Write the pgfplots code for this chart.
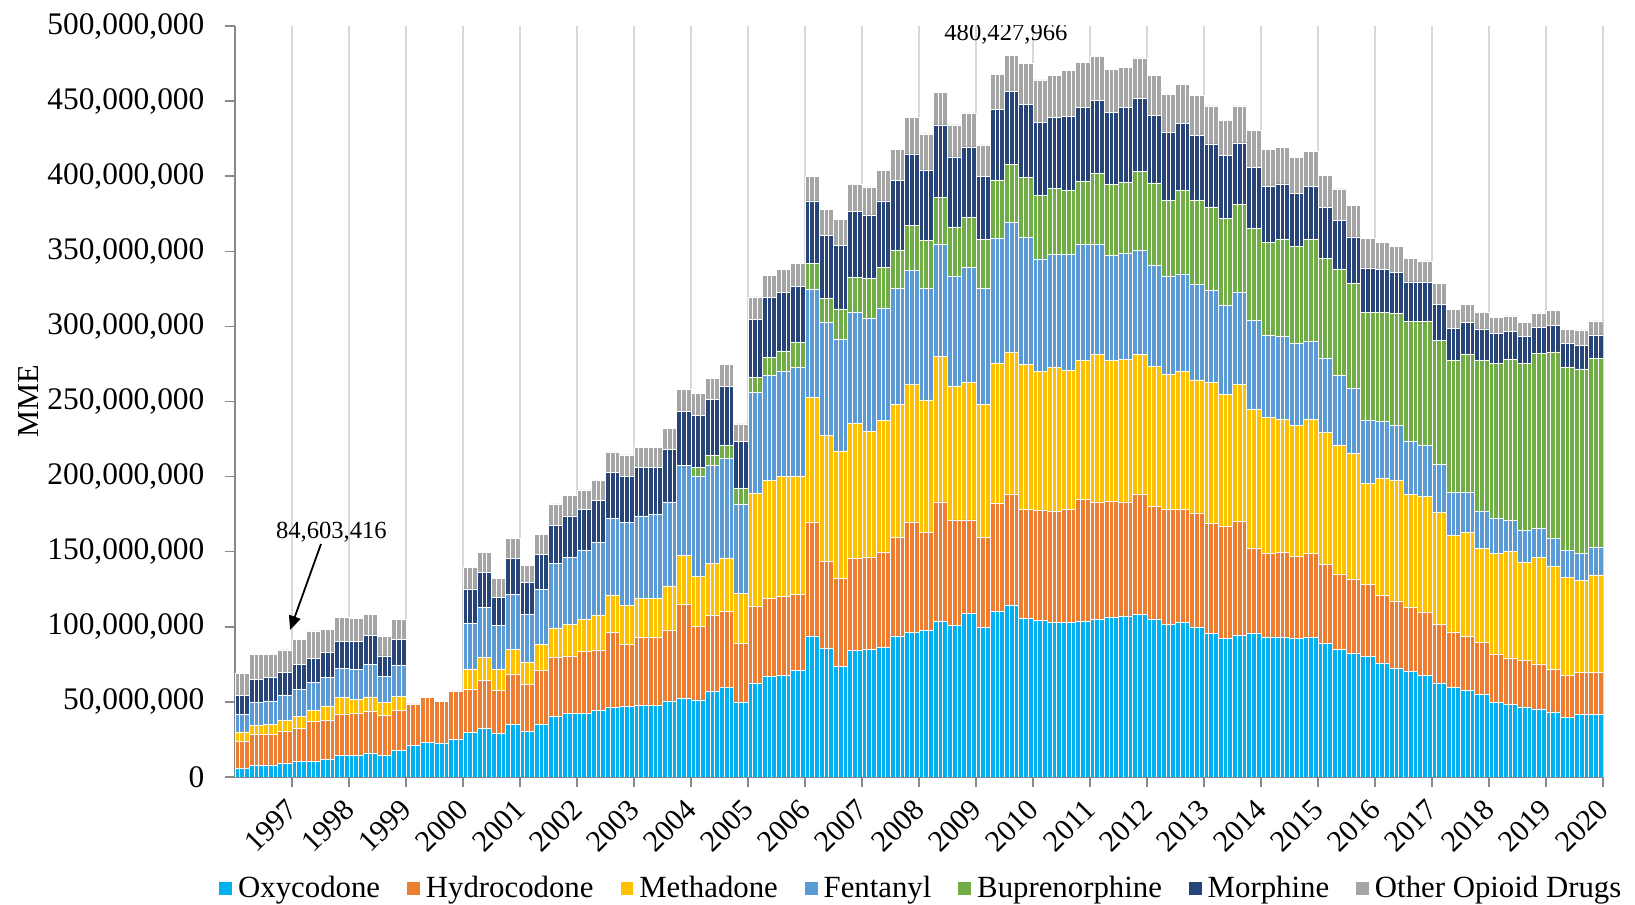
\documentclass[border=0pt]{standalone}
\usepackage{pgfplots}
\pgfplotsset{compat=1.18}
\usepackage{pgfplotstable}
\usepackage{fontspec}
\setmainfont{Liberation Serif}
\usetikzlibrary{arrows.meta}
\definecolor{oxy}{HTML}{00B0F0}
\definecolor{hyd}{HTML}{ED7D31}
\definecolor{met}{HTML}{FFC000}
\definecolor{fen}{HTML}{5B9BD5}
\definecolor{bup}{HTML}{70AD47}
\definecolor{mor}{HTML}{264478}
\definecolor{oth}{HTML}{A5A5A5}
\definecolor{axisgray}{HTML}{898989}
\definecolor{gridgray}{HTML}{D9D9D9}
% monthly values, millions of MME (data reported quarterly)
\pgfplotstableread{
O H M F B Mo Ot
5.5 18.3 6.2 11.7 0 12.4 14.7
5.5 18.3 6.2 11.7 0 12.4 14.7
5.5 18.3 6.2 11.7 0 12.4 14.7
7.5 20.7 6.4 15.1 0 15.5 16.5
7.5 20.7 6.4 15.1 0 15.5 16.5
7.5 20.7 6.4 15.1 0 15.5 16.5
8.0 20.2 6.8 15.6 0 15.8 15.3
8.0 20.2 6.8 15.6 0 15.8 15.3
8.0 20.2 6.8 15.6 0 15.8 15.3
8.9 21.7 7.3 16.7 0 15.0 15.0
8.9 21.7 7.3 16.7 0 15.0 15.0
8.9 21.7 7.3 16.7 0 15.0 15.0
10.2 22.0 8.0 18.2 0 16.4 16.9
10.2 22.0 8.0 18.2 0 16.4 16.9
10.2 22.0 8.0 18.2 0 16.4 16.9
10.4 26.4 7.8 18.2 0 16.0 18.4
10.4 26.4 7.8 18.2 0 16.0 18.4
10.4 26.4 7.8 18.2 0 16.0 18.4
11.8 26.1 9.4 18.8 0 16.7 15.5
11.8 26.1 9.4 18.8 0 16.7 15.5
11.8 26.1 9.4 18.8 0 16.7 15.5
14.2 27.8 11.1 19.3 0 17.7 16.0
14.2 27.8 11.1 19.3 0 17.7 16.0
14.2 27.8 11.1 19.3 0 17.7 16.0
14.2 28.3 9.4 20.0 0 18.2 15.5
14.2 28.3 9.4 20.0 0 18.2 15.5
14.2 28.3 9.4 20.0 0 18.2 15.5
16.0 27.5 9.8 21.9 0 19.3 14.0
16.0 27.5 9.8 21.9 0 19.3 14.0
16.0 27.5 9.8 21.9 0 19.3 14.0
14.2 26.6 8.7 17.5 0 13.6 13.1
14.2 26.6 8.7 17.5 0 13.6 13.1
14.2 26.6 8.7 17.5 0 13.6 13.1
17.5 26.6 9.6 20.7 0 17.3 13.3
17.5 26.6 9.6 20.7 0 17.3 13.3
17.5 26.6 9.6 20.7 0 17.3 13.3
21.3 27.3 0 0 0 0 0
21.3 27.3 0 0 0 0 0
21.3 27.3 0 0 0 0 0
23.1 30.0 0 0 0 0 0
23.1 30.0 0 0 0 0 0
23.1 30.0 0 0 0 0 0
22.7 27.7 0 0 0 0 0
22.7 27.7 0 0 0 0 0
22.7 27.7 0 0 0 0 0
25.1 32.2 0 0 0 0 0
25.1 32.2 0 0 0 0 0
25.1 32.2 0 0 0 0 0
29.5 29.1 13.3 30.2 0 23.1 14.4
29.5 29.1 13.3 30.2 0 23.1 14.4
29.5 29.1 13.3 30.2 0 23.1 14.4
32.2 31.9 15.6 33.3 0 23.0 13.6
32.2 31.9 15.6 33.3 0 23.0 13.6
32.2 31.9 15.6 33.3 0 23.0 13.6
29.1 28.4 13.9 29.6 0 18.6 12.4
29.1 28.4 13.9 29.6 0 18.6 12.4
29.1 28.4 13.9 29.6 0 18.6 12.4
34.8 33.8 16.2 36.8 0 23.7 13.4
34.8 33.8 16.2 36.8 0 23.7 13.4
34.8 33.8 16.2 36.8 0 23.7 13.4
30.4 31.1 15.1 31.9 0 20.9 11.5
30.4 31.1 15.1 31.9 0 20.9 11.5
30.4 31.1 15.1 31.9 0 20.9 11.5
34.8 36.2 17.5 36.5 0 23.0 13.6
34.8 36.2 17.5 36.5 0 23.0 13.6
34.8 36.2 17.5 36.5 0 23.0 13.6
40.2 39.4 19.6 42.9 0 25.5 14.2
40.2 39.4 19.6 42.9 0 25.5 14.2
40.2 39.4 19.6 42.9 0 25.5 14.2
42.1 38.5 21.1 44.6 0 27.5 13.7
42.1 38.5 21.1 44.6 0 27.5 13.7
42.1 38.5 21.1 44.6 0 27.5 13.7
42.4 41.0 21.8 45.7 0 27.5 12.7
42.4 41.0 21.8 45.7 0 27.5 12.7
42.4 41.0 21.8 45.7 0 27.5 12.7
44.1 40.5 23.3 48.4 0 27.7 13.7
44.1 40.5 23.3 48.4 0 27.7 13.7
44.1 40.5 23.3 48.4 0 27.7 13.7
46.4 50.1 24.7 51.2 0 30.2 13.8
46.4 50.1 24.7 51.2 0 30.2 13.8
46.4 50.1 24.7 51.2 0 30.2 13.8
46.8 41.3 26.4 54.8 0 30.6 14.5
46.8 41.3 26.4 54.8 0 30.6 14.5
46.8 41.3 26.4 54.8 0 30.6 14.5
47.7 45.1 26.2 54.8 0 32.2 13.4
47.7 45.1 26.2 54.8 0 32.2 13.4
47.7 45.1 26.2 54.8 0 32.2 13.4
47.7 45.1 26.2 55.6 0 31.4 13.4
47.7 45.1 26.2 55.6 0 31.4 13.4
47.7 45.1 26.2 55.6 0 31.4 13.4
50.6 47.3 29.3 55.9 0 34.9 14.2
50.6 47.3 29.3 55.9 0 34.9 14.2
50.6 47.3 29.3 55.9 0 34.9 14.2
52.1 62.9 32.5 59.9 0 35.8 14.9
52.1 62.9 32.5 59.9 0 35.8 14.9
52.1 62.9 32.5 59.9 0 35.8 14.9
51.3 48.7 33.8 66.1 6.0 35.1 14.3
51.3 48.7 33.8 66.1 6.0 35.1 14.3
51.3 48.7 33.8 66.1 6.0 35.1 14.3
56.8 50.7 34.5 65.3 7.0 37.0 14.3
56.8 50.7 34.5 65.3 7.0 37.0 14.3
56.8 50.7 34.5 65.3 7.0 37.0 14.3
59.5 50.7 35.7 66.2 8.9 38.9 14.9
59.5 50.7 35.7 66.2 8.9 38.9 14.9
59.5 50.7 35.7 66.2 8.9 38.9 14.9
50.0 39.2 33.2 59.4 10.1 31.5 11.7
50.0 39.2 33.2 59.4 10.1 31.5 11.7
50.0 39.2 33.2 59.4 10.1 31.5 11.7
62.2 51.3 75.1 67.2 10.4 38.6 14.8
62.2 51.3 75.1 67.2 10.4 38.6 14.8
62.2 51.3 75.1 67.2 10.4 38.6 14.8
66.8 52.1 78.4 70.2 12.1 39.8 14.8
66.8 52.1 78.4 70.2 12.1 39.8 14.8
66.8 52.1 78.4 70.2 12.1 39.8 14.8
67.6 52.6 79.7 70.3 13.5 38.7 15.4
67.6 52.6 79.7 70.3 13.5 38.7 15.4
67.6 52.6 79.7 70.3 13.5 38.7 15.4
71.1 50.5 78.9 72.4 16.2 37.3 15.4
71.1 50.5 78.9 72.4 16.2 37.3 15.4
71.1 50.5 78.9 72.4 16.2 37.3 15.4
93.9 75.9 82.9 71.9 17.5 41.4 16.1
93.9 75.9 82.9 71.9 17.5 41.4 16.1
93.9 75.9 82.9 71.9 17.5 41.4 16.1
85.7 57.8 83.9 75.0 16.4 42.0 16.9
85.7 57.8 83.9 75.0 16.4 42.0 16.9
85.7 57.8 83.9 75.0 16.4 42.0 16.9
73.4 59.0 84.7 74.5 20.1 42.1 17.5
73.4 59.0 84.7 74.5 20.1 42.1 17.5
73.4 59.0 84.7 74.5 20.1 42.1 17.5
84.3 61.3 89.6 74.5 22.8 44.3 17.9
84.3 61.3 89.6 74.5 22.8 44.3 17.9
84.3 61.3 89.6 74.5 22.8 44.3 17.9
85.2 60.9 84.2 75.3 26.3 42.3 18.7
85.2 60.9 84.2 75.3 26.3 42.3 18.7
85.2 60.9 84.2 75.3 26.3 42.3 18.7
86.3 63.6 87.6 74.5 27.2 44.3 20.6
86.3 63.6 87.6 74.5 27.2 44.3 20.6
86.3 63.6 87.6 74.5 27.2 44.3 20.6
93.9 65.4 89.0 76.9 25.7 46.5 20.3
93.9 65.4 89.0 76.9 25.7 46.5 20.3
93.9 65.4 89.0 76.9 25.7 46.5 20.3
96.5 73.3 91.7 75.9 30.1 47.3 24.3
96.5 73.3 91.7 75.9 30.1 47.3 24.3
96.5 73.3 91.7 75.9 30.1 47.3 24.3
97.7 65.4 88.0 74.0 31.9 47.2 23.9
97.7 65.4 88.0 74.0 31.9 47.2 23.9
97.7 65.4 88.0 74.0 31.9 47.2 23.9
103.5 79.7 96.6 74.6 31.6 48.2 21.6
103.5 79.7 96.6 74.6 31.6 48.2 21.6
103.5 79.7 96.6 74.6 31.6 48.2 21.6
100.9 70.2 89.3 72.7 33.1 46.6 21.4
100.9 70.2 89.3 72.7 33.1 46.6 21.4
100.9 70.2 89.3 72.7 33.1 46.6 21.4
108.9 62.2 91.8 76.5 32.9 47.2 22.6
108.9 62.2 91.8 76.5 32.9 47.2 22.6
108.9 62.2 91.8 76.5 32.9 47.2 22.6
99.6 59.7 88.6 77.2 32.8 42.1 20.8
99.6 59.7 88.6 77.2 32.8 42.1 20.8
99.6 59.7 88.6 77.2 32.8 42.1 20.8
110.5 72.0 93.2 83.2 38.6 47.2 23.3
110.5 72.0 93.2 83.2 38.6 47.2 23.3
110.5 72.0 93.2 83.2 38.6 47.2 23.3
114.6 73.4 95.0 86.1 38.9 48.5 23.9
114.6 73.4 95.0 86.1 38.9 48.5 23.9
114.6 73.4 95.0 86.1 38.9 48.5 23.9
105.7 72.7 96.3 84.5 40.2 48.5 27.1
105.7 72.7 96.3 84.5 40.2 48.5 27.1
105.7 72.7 96.3 84.5 40.2 48.5 27.1
104.1 73.3 92.8 74.7 42.4 48.5 28.3
104.1 73.3 92.8 74.7 42.4 48.5 28.3
104.1 73.3 92.8 74.7 42.4 48.5 28.3
102.8 74.0 95.7 75.6 44.0 46.8 28.1
102.8 74.0 95.7 75.6 44.0 46.8 28.1
102.8 74.0 95.7 75.6 44.0 46.8 28.1
102.8 75.6 92.5 77.2 42.4 49.4 30.3
102.8 75.6 92.5 77.2 42.4 49.4 30.3
102.8 75.6 92.5 77.2 42.4 49.4 30.3
103.5 81.3 92.5 77.1 42.4 48.8 30.3
103.5 81.3 92.5 77.1 42.4 48.8 30.3
103.5 81.3 92.5 77.1 42.4 48.8 30.3
105.1 78.1 97.9 73.7 46.8 49.1 29.1
105.1 78.1 97.9 73.7 46.8 49.1 29.1
105.1 78.1 97.9 73.7 46.8 49.1 29.1
106.6 77.2 93.5 70.1 47.2 47.8 28.7
106.6 77.2 93.5 70.1 47.2 47.8 28.7
106.6 77.2 93.5 70.1 47.2 47.8 28.7
107.3 75.9 95.0 70.2 47.5 49.7 26.8
107.3 75.9 95.0 70.2 47.5 49.7 26.8
107.3 75.9 95.0 70.2 47.5 49.7 26.8
108.2 79.8 93.1 69.5 52.6 48.8 26.8
108.2 79.8 93.1 69.5 52.6 48.8 26.8
108.2 79.8 93.1 69.5 52.6 48.8 26.8
105.2 74.9 93.5 66.9 55.0 45.2 26.6
105.2 74.9 93.5 66.9 55.0 45.2 26.6
105.2 74.9 93.5 66.9 55.0 45.2 26.6
101.5 76.4 89.9 65.4 50.7 45.2 25.4
101.5 76.4 89.9 65.4 50.7 45.2 25.4
101.5 76.4 89.9 65.4 50.7 45.2 25.4
102.7 75.2 92.3 64.8 55.6 44.6 26.0
102.7 75.2 92.3 64.8 55.6 44.6 26.0
102.7 75.2 92.3 64.8 55.6 44.6 26.0
99.4 76.4 88.6 63.6 56.2 42.8 26.9
99.4 76.4 88.6 63.6 56.2 42.8 26.9
99.4 76.4 88.6 63.6 56.2 42.8 26.9
95.4 73.3 93.9 61.1 55.9 41.9 25.3
95.4 73.3 93.9 61.1 55.9 41.9 25.3
95.4 73.3 93.9 61.1 55.9 41.9 25.3
92.3 74.3 88.3 59.0 58.1 41.8 23.3
92.3 74.3 88.3 59.0 58.1 41.8 23.3
92.3 74.3 88.3 59.0 58.1 41.8 23.3
94.5 75.8 91.3 61.2 58.3 41.0 24.7
94.5 75.8 91.3 61.2 58.3 41.0 24.7
94.5 75.8 91.3 61.2 58.3 41.0 24.7
96.0 56.5 92.3 59.3 61.1 40.4 25.0
96.0 56.5 92.3 59.3 61.1 40.4 25.0
96.0 56.5 92.3 59.3 61.1 40.4 25.0
93.3 55.4 90.8 54.7 61.5 37.3 24.6
93.3 55.4 90.8 54.7 61.5 37.3 24.6
93.3 55.4 90.8 54.7 61.5 37.3 24.6
93.3 56.0 88.9 55.4 64.6 36.7 24.3
93.3 56.0 88.9 55.4 64.6 36.7 24.3
93.3 56.0 88.9 55.4 64.6 36.7 24.3
92.2 54.9 87.2 54.4 64.8 35.3 23.5
92.2 54.9 87.2 54.4 64.8 35.3 23.5
92.2 54.9 87.2 54.4 64.8 35.3 23.5
92.7 56.0 89.5 51.8 67.7 35.3 23.4
92.7 56.0 89.5 51.8 67.7 35.3 23.4
92.7 56.0 89.5 51.8 67.7 35.3 23.4
89.1 52.4 87.8 49.7 66.2 34.0 21.2
89.1 52.4 87.8 49.7 66.2 34.0 21.2
89.1 52.4 87.8 49.7 66.2 34.0 21.2
85.0 49.9 86.1 46.4 70.9 32.3 21.0
85.0 49.9 86.1 46.4 70.9 32.3 21.0
85.0 49.9 86.1 46.4 70.9 32.3 21.0
82.5 49.4 83.6 43.4 69.8 30.9 20.7
82.5 49.4 83.6 43.4 69.8 30.9 20.7
82.5 49.4 83.6 43.4 69.8 30.9 20.7
80.3 47.7 67.6 42.0 71.8 29.5 19.6
80.3 47.7 67.6 42.0 71.8 29.5 19.6
80.3 47.7 67.6 42.0 71.8 29.5 19.6
76.0 45.1 77.6 38.1 72.5 28.5 18.2
76.0 45.1 77.6 38.1 72.5 28.5 18.2
76.0 45.1 77.6 38.1 72.5 28.5 18.2
72.5 44.7 80.4 36.4 74.8 26.9 17.5
72.5 44.7 80.4 36.4 74.8 26.9 17.5
72.5 44.7 80.4 36.4 74.8 26.9 17.5
70.2 42.8 75.2 35.3 79.9 26.2 15.9
70.2 42.8 75.2 35.3 79.9 26.2 15.9
70.2 42.8 75.2 35.3 79.9 26.2 15.9
67.9 42.0 76.7 33.9 82.9 25.7 14.5
67.9 42.0 76.7 33.9 82.9 25.7 14.5
67.9 42.0 76.7 33.9 82.9 25.7 14.5
62.7 39.1 74.7 31.6 82.5 24.1 13.7
62.7 39.1 74.7 31.6 82.5 24.1 13.7
62.7 39.1 74.7 31.6 82.5 24.1 13.7
59.7 36.9 64.3 28.5 87.9 21.5 12.4
59.7 36.9 64.3 28.5 87.9 21.5 12.4
59.7 36.9 64.3 28.5 87.9 21.5 12.4
57.6 36.0 69.2 26.6 92.3 21.0 11.7
57.6 36.0 69.2 26.6 92.3 21.0 11.7
57.6 36.0 69.2 26.6 92.3 21.0 11.7
55.2 34.4 62.6 25.0 100.1 21.0 11.0
55.2 34.4 62.6 25.0 100.1 21.0 11.0
55.2 34.4 62.6 25.0 100.1 21.0 11.0
49.4 32.0 67.7 22.9 103.3 19.8 10.8
49.4 32.0 67.7 22.9 103.3 19.8 10.8
49.4 32.0 67.7 22.9 103.3 19.8 10.8
48.3 31.0 70.7 20.9 106.9 19.1 10.1
48.3 31.0 70.7 20.9 106.9 19.1 10.1
48.3 31.0 70.7 20.9 106.9 19.1 10.1
46.7 30.8 65.3 21.4 110.9 18.0 9.4
46.7 30.8 65.3 21.4 110.9 18.0 9.4
46.7 30.8 65.3 21.4 110.9 18.0 9.4
45.3 30.0 70.9 19.5 116.1 17.4 9.6
45.3 30.0 70.9 19.5 116.1 17.4 9.6
45.3 30.0 70.9 19.5 116.1 17.4 9.6
43.3 28.6 68.2 18.9 124.0 17.7 9.9
43.3 28.6 68.2 18.9 124.0 17.7 9.9
43.3 28.6 68.2 18.9 124.0 17.7 9.9
39.9 27.5 65.3 18.0 122.1 16.0 9.2
39.9 27.5 65.3 18.0 122.1 16.0 9.2
39.9 27.5 65.3 18.0 122.1 16.0 9.2
41.5 28.1 61.5 18.0 122.6 15.8 10.1
41.5 28.1 61.5 18.0 122.6 15.8 10.1
41.5 28.1 61.5 18.0 122.6 15.8 10.1
41.5 28.1 64.9 18.4 126.0 15.5 9.2
41.5 28.1 64.9 18.4 126.0 15.5 9.2
41.5 28.1 64.9 18.4 126.0 15.5 9.2
}\data

\begin{document}
\begin{tikzpicture}
\begin{axis}[
  scale only axis,
  width=684bp, height=375.5bp,
  xmin=-0.5, xmax=287.5, ymin=0, ymax=500,
  ybar stacked, bar width=1,
  axis x line*=bottom, axis y line*=left,
  axis line style={draw=axisgray, line width=0.75bp},
  tick style={draw=axisgray, line width=0.75bp},
  tick align=outside, major tick length=5bp,
  xtick={11.5,23.5,...,287.5},
  xticklabels={1997,1998,1999,2000,2001,2002,2003,2004,2005,2006,2007,2008,2009,2010,2011,2012,2013,2014,2015,2016,2017,2018,2019,2020},
  xmajorgrids, grid style={draw=gridgray, line width=0.75bp},
  ytick={0,50,...,500},
  yticklabels={0,{50,000,000},{100,000,000},{150,000,000},{200,000,000},{250,000,000},{300,000,000},{350,000,000},{400,000,000},{450,000,000},{500,000,000}},
  y tick label style={font=\fontsize{15.7bp}{18bp}\selectfont, anchor=east, xshift=-6.8bp},
  x tick label style={font=\fontsize{15bp}{17bp}\selectfont, rotate=45, anchor=north east, inner sep=1bp, xshift=-5bp},
  ylabel={MME},
  ylabel style={at={(axis description cs:-0.1506,0.5)}, anchor=center, font=\fontsize{15.2bp}{17bp}\selectfont},
  legend columns=7,
  legend style={at={(axis description cs:-0.0117,-0.148)}, anchor=west, draw=none, fill=none, inner sep=0pt,
    font=\fontsize{15.4bp}{17bp}\selectfont,
    /tikz/every even column/.append style={column sep=11.5bp},
    /tikz/every odd column/.append style={column sep=1bp}},
  legend image code/.code={\fill[#1,draw=none] (0bp,-3.2bp) rectangle (6.4bp,3.2bp);},
  every axis plot/.append style={draw=white, line width=0.3bp},
]
\addplot[fill=oxy] table[x expr=\coordindex, y=O] {\data};
\addplot[fill=hyd] table[x expr=\coordindex, y=H] {\data};
\addplot[fill=met] table[x expr=\coordindex, y=M] {\data};
\addplot[fill=fen] table[x expr=\coordindex, y=F] {\data};
\addplot[fill=bup] table[x expr=\coordindex, y=B] {\data};
\addplot[fill=mor] table[x expr=\coordindex, y=Mo] {\data};
\addplot[fill=oth] table[x expr=\coordindex, y=Ot] {\data};
\legend{Oxycodone,Hydrocodone,Methadone,Fentanyl,Buprenorphine,Morphine,Other Opioid Drugs}
\node[font=\fontsize{12.3bp}{14bp}\selectfont] at (axis cs:161.8,494.5) {480,427,966};
\node[font=\fontsize{12.3bp}{14bp}\selectfont] at (axis cs:19.8,163.2) {84,603,416};
\draw[-{Triangle[length=7bp,width=6bp]}, line width=0.9bp, black] (axis cs:17.6,155.1) -- (axis cs:11.1,97.9);
\end{axis}
\path (-117.5bp,-63bp) rectangle (700bp,388.5bp);
\end{tikzpicture}
\end{document}
